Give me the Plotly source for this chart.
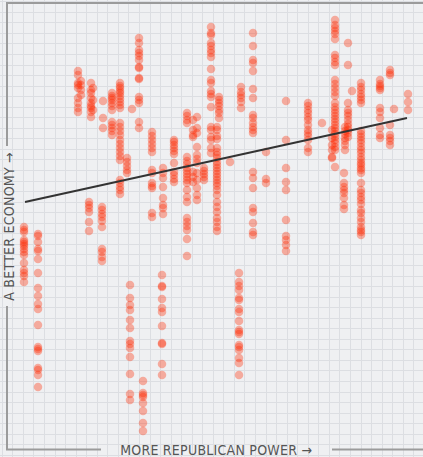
import plotly.graph_objects as go

# ---- data: each column of estimates (x = republican power index, y = economy rank from top) ----
column_x = [24, 38, 78, 81, 91, 93, 103, 89, 102, 112, 120, 127, 132, 139, 130, 143, 152, 162,
            163, 174, 187, 193, 197, 204, 211, 219, 217, 230, 241, 239, 253, 266, 286, 308,
            322, 335, 332, 345, 348, 352, 344, 361, 380, 390, 394, 408]
column_y = [
    [227, 230, 232, 240, 242, 244, 246, 249, 252, 255, 263, 270, 273, 276, 282],
    [234, 236, 242, 249, 251, 259, 273, 288, 296, 304, 309, 325, 347, 349, 351, 368, 370, 375, 387],
    [71, 75, 83, 85, 88, 98, 103, 108, 112],
    [81, 85, 90, 95],
    [83, 90, 93, 98, 103, 106, 108, 112, 117],
    [88, 100, 110],
    [101, 118, 128],
    [202, 205, 208, 212, 222, 231],
    [207, 210, 214, 217, 221, 227, 249, 252, 257, 261],
    [93, 96, 98, 100, 103, 106, 110, 122, 125, 128, 131, 135],
    [83, 86, 88, 91, 93, 96, 99, 102, 105, 108, 123, 127, 131, 135, 140, 144, 148, 152, 156, 160,
     180, 183, 187, 190, 194],
    [158, 162, 166, 170, 173],
    [109],
    [38, 43, 50, 53, 56, 60, 67, 68, 78, 79, 97, 100, 103, 122, 128],
    [285, 298, 305, 310, 320, 328, 341, 344, 348, 357, 374, 394, 400],
    [381, 393, 395, 397, 403, 411, 423, 431],
    [132, 136, 140, 144, 148, 152, 170, 173, 183, 186, 188, 213, 217],
    [275, 286, 287, 299, 308, 312, 326, 343, 344, 364, 375],
    [168, 173, 178, 187, 198, 205, 208, 214],
    [140, 142, 145, 148, 151, 154, 163, 172, 175, 179, 182],
    [113, 116, 120, 123, 157, 161, 164, 168, 171, 174, 177, 180, 183, 190, 197, 202, 218, 222,
     226, 230, 239, 256],
    [120, 130, 135, 137, 172, 177, 182],
    [117, 128, 133, 147, 155, 159, 163, 173, 180, 188, 195, 200],
    [168, 171, 174, 177, 180],
    [27, 33, 35, 43, 46, 50, 53, 57, 69, 80, 83, 91, 94, 97, 107, 127, 130, 137, 140, 148, 153],
    [97, 100, 103, 106, 110, 113, 118],
    [127, 130, 136, 139, 148, 152, 155, 158, 162, 165, 168, 171, 174, 177, 180, 183, 186, 190,
     195, 202, 207, 212, 218, 222, 227, 231],
    [162],
    [87, 92, 95, 98, 102, 108],
    [273, 282, 286, 290, 298, 300, 309, 312, 321, 330, 332, 334, 345, 347, 350, 358, 363, 375],
    [33, 46, 60, 63, 71, 89, 98, 115, 118, 123, 127, 130, 133, 172, 178, 188, 208, 212, 223,
     232, 235],
    [152, 179, 183],
    [101, 140, 168, 182, 190, 220, 236, 240, 245, 251],
    [103, 106, 110, 113, 117, 120, 125, 130, 133, 136, 140, 148, 152],
    [123],
    [20, 25, 28, 31, 34, 39, 55, 58, 62, 65, 80, 84, 88, 92, 96, 103, 107, 110, 113, 116, 119,
     122, 125, 128, 131, 134, 137, 140, 143, 147, 150, 167],
    [130, 138, 145, 150, 157, 158],
    [127, 131, 134, 138, 141, 145, 150],
    [43, 65, 103, 110, 113, 116, 120, 124, 127, 130, 133, 137],
    [91],
    [173, 183, 187, 190, 193, 198, 205, 209],
    [83, 87, 90, 94, 97, 100, 103, 131, 134, 137, 140, 143, 147, 150, 153, 157, 160, 163, 165,
     168, 170, 173, 183, 190, 193, 197, 200, 204, 210, 213, 218, 222, 227, 230, 232, 235],
    [80, 84, 86, 88, 90, 108, 112, 118, 128, 135, 138],
    [70, 73, 75, 125, 135, 138, 141, 145],
    [109],
    [94, 102, 110],
]
fit_x = [25, 407]
fit_y = [202, 118]

x_label = "MORE REPUBLICAN POWER →"
y_label = "A BETTER ECONOMY →"

W, H = 423, 457
BG = "#eff0f2"

xs, ys = [], []
for cx, col in zip(column_x, column_y):
    for v in col:
        xs.append(cx)
        ys.append(v)

fig = go.Figure()
fig.add_trace(go.Scatter(
    x=xs, y=ys, mode="markers",
    marker=dict(size=8.5, color="rgba(255,40,0,0.35)", line=dict(width=0)),
    hoverinfo="skip", showlegend=False))
fig.add_trace(go.Scatter(
    x=fit_x, y=fit_y, mode="lines",
    line=dict(color="#333333", width=2), hoverinfo="skip", showlegend=False))


def px(x):
    return x / W


def py(y):
    return 1 - y / H


frame = dict(color="#9b9b9b", width=2)
shapes = [
    dict(type="line", xref="paper", yref="paper", x0=px(6), x1=px(423), y0=py(3), y1=py(3), line=frame),
    dict(type="line", xref="paper", yref="paper", x0=px(7), x1=px(7), y0=py(3), y1=py(146), line=frame),
    dict(type="line", xref="paper", yref="paper", x0=px(7), x1=px(7), y0=py(306), y1=py(450), line=frame),
    dict(type="line", xref="paper", yref="paper", x0=px(6), x1=px(101), y0=py(449.5), y1=py(449.5), line=frame),
    dict(type="line", xref="paper", yref="paper", x0=px(332), x1=px(423), y0=py(449.5), y1=py(449.5), line=frame),
]

font = dict(family="Liberation Sans Narrow, DejaVu Sans Condensed, sans-serif", size=14,
            color="#555555")
annotations = [
    dict(text=x_label, xref="paper", yref="paper", x=px(216), y=py(450), showarrow=False,
         xanchor="center", yanchor="middle", font=font),
    dict(text=y_label, xref="paper", yref="paper", x=px(8), y=py(226.5), showarrow=False,
         xanchor="center", yanchor="middle", textangle=-90, font=font),
]

fig.update_layout(
    width=W, height=H, margin=dict(l=0, r=0, t=0, b=0),
    paper_bgcolor=BG, plot_bgcolor=BG,
    shapes=shapes, annotations=annotations, showlegend=False,
    xaxis=dict(range=[0, W], showticklabels=False, zeroline=False, showline=False,
               showgrid=True, gridcolor="#dcdee2", gridwidth=1, tick0=2.3, dtick=10.55,
               fixedrange=True),
    yaxis=dict(range=[H, 0], showticklabels=False, zeroline=False, showline=False,
               showgrid=True, gridcolor="#dcdee2", gridwidth=1, tick0=1.7, dtick=10.55,
               fixedrange=True),
)

fig.write_html(
    "out.html",
    config={"displayModeBar": False},
    post_script=(
        "document.body.style.margin='0';document.body.style.padding='0';"
        "document.body.style.overflow='hidden';"
        "document.querySelectorAll('.annotation-text').forEach(function(t){"
        "t.style.letterSpacing='0.25px';});"
    ),
)
